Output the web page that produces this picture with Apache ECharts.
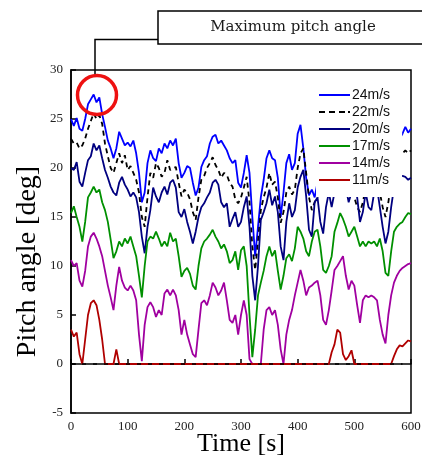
<!DOCTYPE html>
<html>
<head>
<meta charset="utf-8">
<script src="https://cdn.jsdelivr.net/npm/echarts@6/dist/echarts.min.js"></script>
<style>html,body{margin:0;padding:0;background:#fff;}#c{width:422px;height:461px;}</style>
</head>
<body>
<div id="c"></div>
<script>
// Time samples [s]
const times = [
0,5,10,15,20,25,30,35,40,45,
50,55,60,65,70,75,80,85,90,95,
100,105,110,115,120,125,130,135,140,145,
150,155,160,165,170,175,180,185,190,195,
200,205,210,215,220,225,230,235,240,245,
250,255,260,265,270,275,280,285,290,295,
300,305,310,315,320,325,330,335,340,345,
350,355,360,365,370,375,380,385,390,395,
400,405,410,415,420,425,430,435,440,445,
450,455,460,465,470,475,480,485,490,495,
500,505,510,515,520,525,530,535,540,545,
550,555,560,565,570,575,580,585,590,595,
600];

const names = ['24m/s','22m/s','20m/s','17m/s','14m/s','11m/s'];

const v24 = [
25.0,24.3,25.1,24.0,23.8,25.0,26.5,27.0,27.5,26.7,
27.2,25.5,24.2,22.8,22.0,21.0,22.0,23.7,23.0,22.3,
22.6,22.2,22.8,21.5,19.5,16.5,17.5,20.5,21.8,21.0,
20.7,22.0,21.5,22.5,22.0,22.8,22.3,23.0,20.5,19.0,
19.5,20.2,20.0,18.5,17.2,18.0,20.1,20.8,21.2,22.5,
23.2,23.4,22.5,22.8,22.3,21.8,21.0,20.5,20.8,18.5,
18.0,19.5,21.3,19.5,15.0,11.0,14.0,17.0,18.8,21.0,
21.8,21.0,20.8,19.0,15.0,17.5,20.5,21.4,19.8,20.5,
23.5,24.4,22.0,19.0,17.2,17.8,17.0,18.5,20.0,21.0,
20.0,21.5,22.0,21.0,19.5,21.0,22.0,20.5,21.5,22.5,
21.0,20.0,21.5,22.0,20.5,19.0,21.0,22.0,20.5,19.5,
21.0,22.5,21.5,20.0,21.5,22.5,23.0,23.5,24.2,23.6,
24.0];

const v22 = [
23.0,22.5,22.6,22.0,22.3,23.0,24.0,24.8,25.6,25.0,
25.4,24.5,22.5,21.2,20.0,19.5,20.5,21.5,20.5,21.3,
19.8,20.2,19.5,18.8,17.5,15.0,14.0,17.0,19.5,19.0,
20.5,20.0,19.1,19.5,20.8,19.8,20.0,20.1,18.5,17.1,
17.8,17.5,16.8,15.5,14.7,17.0,18.8,19.2,20.0,20.5,
21.1,20.3,19.8,19.0,19.5,19.3,18.5,18.1,16.8,16.4,
17.0,18.0,19.1,16.5,12.0,9.6,12.5,15.7,17.0,18.0,
19.5,18.3,18.6,17.0,14.4,15.5,17.5,18.1,17.3,17.8,
20.0,21.5,22.0,19.5,17.0,15.7,16.5,17.0,18.0,19.0,
18.0,19.5,20.0,19.0,18.5,19.5,19.0,18.5,18.0,17.5,
17.0,16.0,15.5,16.5,18.0,19.0,19.5,18.5,17.5,17.5,
16.0,15.0,16.5,18.5,20.0,20.5,21.0,21.5,21.8,21.5,
21.8];

const v20 = [
20.0,19.8,20.6,18.6,18.1,19.5,20.8,21.2,22.5,21.8,
22.3,21.0,19.8,19.0,18.1,17.5,17.2,18.5,19.1,18.3,
17.8,17.1,17.5,17.0,15.5,13.0,11.3,14.0,15.7,18.0,
17.1,16.5,17.5,18.1,17.3,18.5,18.8,18.0,15.5,15.0,
15.8,14.5,13.5,12.3,13.5,15.0,16.0,16.4,17.0,17.5,
18.5,18.8,18.3,16.5,16.0,16.4,14.0,14.8,15.5,14.0,
14.5,16.0,17.1,14.0,9.0,6.5,10.0,14.7,15.5,16.4,
17.8,16.2,17.1,15.5,12.0,10.6,14.5,16.4,15.0,15.7,
18.0,19.1,19.8,17.1,13.7,13.0,16.5,17.0,14.5,13.3,
16.0,17.5,16.0,17.5,18.5,19.0,18.5,18.0,16.5,17.5,
18.5,17.0,14.5,15.5,17.5,16.0,15.7,17.5,18.0,16.0,
14.0,12.3,13.5,16.0,18.0,18.5,19.0,19.2,19.1,18.8,
19.0];

const v17 = [
15.4,16.1,15.0,14.0,12.5,14.5,17.0,17.5,18.1,17.5,
17.8,16.5,15.7,14.5,12.7,10.8,11.5,12.5,12.0,12.8,
12.3,13.0,12.0,11.0,9.0,6.8,10.0,12.5,13.0,12.8,
13.5,12.8,12.0,12.5,12.0,13.4,12.5,12.8,11.0,8.9,
9.5,9.8,9.2,8.0,7.6,10.0,11.8,12.5,12.8,13.2,
13.7,13.0,12.5,11.8,12.2,11.5,10.3,10.6,11.5,9.6,
11.6,12.0,10.0,5.0,0.7,3.5,7.0,8.3,9.5,11.0,
12.0,11.0,11.6,9.5,7.6,9.0,10.8,11.2,10.5,11.8,
14.0,13.5,12.8,11.5,11.0,12.5,13.5,13.7,12.0,9.6,
9.3,10.0,11.0,13.5,14.4,15.4,14.8,14.0,13.0,13.5,
14.0,13.0,12.0,12.5,12.0,12.5,12.3,12.5,12.0,12.8,
11.5,9.3,9.0,11.5,13.5,14.0,14.3,14.5,15.0,15.4,
15.3];

const v14 = [
10.6,10.0,10.3,8.5,7.9,9.5,12.0,13.0,13.4,12.8,
12.0,11.0,9.5,8.0,6.8,5.5,8.0,9.9,8.5,7.8,
7.5,8.0,7.5,6.5,3.0,0.3,4.0,5.8,6.3,5.8,
4.8,5.5,5.0,7.2,7.6,7.0,7.6,7.0,5.5,3.0,
4.5,3.0,2.0,1.0,0.7,3.5,6.2,6.5,6.0,7.0,
8.3,7.8,7.0,7.5,8.3,6.5,4.5,4.2,5.0,3.0,
5.0,6.5,5.0,0.5,0,0,0,0,3.5,5.5,
5.8,5.0,5.5,4.0,1.5,0.0,3.0,4.5,5.5,7.0,
8.3,9.6,8.5,7.0,7.8,8.0,8.3,8.5,7.0,4.5,
4.0,5.5,7.5,9.6,10.0,10.5,11.0,9.0,7.6,8.5,
8.0,6.0,4.2,6.5,7.0,6.8,7.0,6.8,6.5,4.5,
3.0,2.1,5.0,7.0,8.3,9.0,9.5,9.8,10.0,10.2,
10.3];

const v11 = [
3.5,2.8,3.2,1.0,0,2.5,5.0,6.2,6.5,6.0,
4.5,2.5,0,0,0,0,1.5,0,0,0,
0,0,0,0,0,0,0,0,0,0,
0,0,0,0,0,0,0,0,0,0,
0,0,0,0,0,0,0,0,0,0,
0,0,0,0,0,0,0,0,0,0,
0,0,0,0,0,0,0,0,0,0,
0,0,0,0,0,0,0,0,0,0,
0,0,0,0,0,0,0,0,0,0,
0,0,1.2,2.0,3.5,3.2,1.0,0.4,0.8,1.4,
0,0,0,0,0,0,0,0,0,0,
0,0,0,0,0.8,1.5,1.9,1.8,2.1,2.4,
2.3];

// black dashed zero reference line
const zeroTimes = [0, 585];
const zeroValues = [0, 0];

const yTicks = [-5, 0, 5, 10, 15, 20, 25, 30];
const xTicks = [0, 100, 200, 300, 400, 500, 600];

const colors = ['#0000ff', '#000000', '#000080', '#009000', '#a000a0', '#b00000'];
const valueSets = [v24, v22, v20, v17, v14, v11];
const solidIcon = 'path://M0,0H31V2H0Z';
const dashIcon = 'path://M0,0H6V2H0Z M10,0H16V2H10Z M20,0H26V2H20Z M29,0H31V2H29Z';

const chart = echarts.init(document.getElementById('c'), null, {renderer: 'canvas'});

const series = valueSets.map((vals, k) => ({
  name: names[k],
  type: 'line',
  symbol: 'none',
  showSymbol: false,
  data: times.map((t, i) => [t, vals[i]]),
  lineStyle: {color: colors[k], width: 1.8, type: k === 1 ? [5, 4] : 'solid'},
  itemStyle: {color: colors[k]},
  z: 2
}));
series.push({
  name: 'zero',
  type: 'line',
  symbol: 'none',
  data: zeroTimes.map((t, i) => [t, zeroValues[i]]),
  lineStyle: {color: '#000', width: 1.5, type: [4, 7]},
  z: 3
});

const serif = 'Liberation Serif';

chart.setOption({
  animation: false,
  backgroundColor: '#fff',
  grid: {left: 71, right: 11, top: 70, bottom: 48, show: true, borderColor: '#000', borderWidth: 1.5, backgroundColor: 'transparent', outerBoundsMode: 'none', containLabel: false},
  xAxis: {
    type: 'value', min: xTicks[0], max: xTicks[xTicks.length - 1], interval: 100,
    name: 'Time [s]', nameLocation: 'middle', nameGap: 18, nameMoveOverlap: false,
    nameTextStyle: {fontFamily: serif, fontSize: 26, color: '#000'},
    axisLine: {lineStyle: {color: '#000', width: 1.5}},
    axisTick: {inside: true, length: 5, lineStyle: {color: '#000', width: 1.5}},
    axisLabel: {fontFamily: serif, fontSize: 13, color: '#222', margin: 7},
    splitLine: {show: false}
  },
  yAxis: {
    type: 'value', min: yTicks[0], max: yTicks[yTicks.length - 1], interval: 5,
    name: 'Pitch angle [deg]', nameLocation: 'middle', nameGap: 29, nameMoveOverlap: false,
    nameTextStyle: {fontFamily: serif, fontSize: 28, color: '#000', padding: [0, 40, 0, 0]},
    axisLine: {lineStyle: {color: '#000', width: 1.5}},
    axisTick: {inside: true, length: 5, lineStyle: {color: '#000', width: 1.5}},
    axisLabel: {fontFamily: serif, fontSize: 13, color: '#222', margin: 8},
    splitLine: {show: false}
  },
  legend: {
    data: names.map((n, k) => ({name: n, icon: k === 1 ? dashIcon : solidIcon})),
    orient: 'vertical', left: 316, top: 80,
    padding: [8, 12, 10, 3], itemWidth: 31, itemHeight: 14, itemGap: 3,
    backgroundColor: '#fff',
    textStyle: {fontFamily: 'Liberation Sans', fontSize: 14, color: '#111', padding: [0, 0, 0, -3]}
  },
  series: series,
  graphic: [
    {type: 'rect', shape: {x: 158, y: 11, width: 290, height: 33}, style: {fill: '#fff', stroke: '#000', lineWidth: 1.5}, z: 10},
    {type: 'text', x: 293, y: 27.5, style: {text: 'Maximum pitch angle', font: '15px "DejaVu Serif"', fill: '#1a1a1a', align: 'center', verticalAlign: 'middle'}, z: 11},
    {type: 'polyline', shape: {points: [[158, 39.5], [95, 39.5], [95, 76]]}, style: {stroke: '#000', lineWidth: 1.5, fill: null}, z: 10},
    {type: 'circle', shape: {cx: 97, cy: 95, r: 19.5}, style: {stroke: '#ee1111', lineWidth: 3.5, fill: null}, z: 10}
  ]
});
</script>
</body>
</html>
